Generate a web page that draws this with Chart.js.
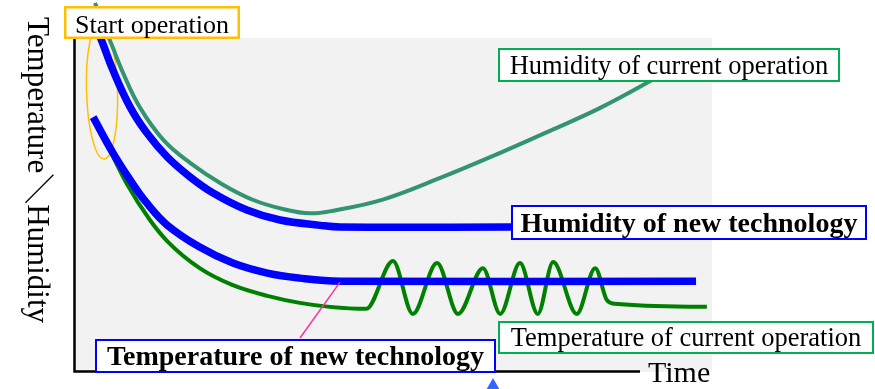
<!DOCTYPE html>
<html>
<head>
<meta charset="utf-8">
<script src="https://cdn.jsdelivr.net/npm/chart.js@4/dist/chart.umd.min.js"></script>
<style>
  html, body { margin: 0; padding: 0; background: #fff; overflow: hidden; }
  canvas { display: block; }
</style>
</head>
<body>
<canvas id="chart" width="875" height="389"></canvas>
<script>
// Schematic curves: time runs 0–100, temperature / humidity on an arbitrary 0–100 scale.

// Humidity of current operation
const humidityCurrentTime  = [3.3, 4.5, 5.6, 7.7, 10.3, 14.0, 18.2, 22.9, 28.1, 33.4, 37.0, 40.1, 48.4, 57.4, 66.8, 74.6, 82.4, 90.6, 92.6];
const humidityCurrentValue = [110.5, 103.9, 99.4, 89.5, 79.3, 69.5, 62.6, 56.6, 51.5, 48.5, 47.5, 48.1, 51.6, 58.1, 65.6, 72.2, 79.0, 87.4, 89.8];

// Humidity of new technology
const humidityNewTime  = [3.6, 4.3, 6.1, 8.8, 11.4, 14.6, 18.2, 21.8, 27.1, 32.3, 38.6, 41.7, 68.5];
const humidityNewValue = [102.4, 99.4, 90.4, 79.3, 71.6, 64.4, 58.4, 53.6, 48.5, 45.5, 43.9, 43.4, 43.4];

// Temperature of new technology
const temperatureNewTime  = [3.0, 6.1, 8.8, 11.4, 14.6, 19.7, 24.9, 30.3, 35.4, 41.7, 97.5];
const temperatureNewValue = [76.3, 65.6, 57.5, 50.6, 44.0, 37.4, 32.6, 29.6, 28.1, 27.2, 27.2];

// Temperature of current operation (oscillates once it settles)
const temperatureCurrentTime  = [3.3, 5.3, 8.3, 11.9, 14.6, 19.7, 24.9, 30.3, 35.4, 40.1, 45.8,
                                 50.0, 53.1, 56.9, 60.2, 64.1, 66.8, 69.9, 72.7, 75.1, 78.8, 81.7,
                                 83.5, 84.8, 99.2];
const temperatureCurrentValue = [75.4, 67.7, 56.3, 45.5, 39.2, 31.1, 26.0, 22.8, 20.7, 19.5, 18.9,
                                 33.2, 17.4, 32.6, 17.4, 31.1, 17.4, 32.6, 17.4, 32.9, 17.4, 31.1,
                                 21.6, 20.4, 19.5];

// Text
const axisTitleY = 'Temperature＼Humidity';
const axisTitleX = 'Time';
const labelStart = 'Start operation';
const labelHumidityCurrent = 'Humidity of current operation';
const labelHumidityNew = 'Humidity of new technology';
const labelTemperatureCurrent = 'Temperature of current operation';
const labelTemperatureNew = 'Temperature of new technology';

const SERIF = "'Liberation Serif', 'Times New Roman', 'Noto Sans CJK JP', serif";

function toPoints(xs, ys) {
  return xs.map((x, i) => ({ x: x, y: ys[i] }));
}

// Callout boxes (pixel layout)
const callouts = [
  { text: labelStart, x1: 64, y1: 6, x2: 240, y2: 39, color: '#FFC000', lw: 2.5, font: '26px ' + SERIF, base: 33 },
  { text: labelHumidityCurrent, x1: 498, y1: 48, x2: 840, y2: 82, color: '#00B050', lw: 2, font: '26.5px ' + SERIF, base: 74 },
  { text: labelHumidityNew, x1: 511, y1: 205, x2: 867, y2: 240, color: '#0000FF', lw: 2, font: 'bold 28px ' + SERIF, base: 232 },
  { text: labelTemperatureCurrent, x1: 498, y1: 321, x2: 874, y2: 354, color: '#00B050', lw: 2, font: '26.5px ' + SERIF, base: 346 },
  { text: labelTemperatureNew, x1: 95, y1: 339, x2: 496, y2: 373, color: '#0000FF', lw: 2, font: 'bold 28px ' + SERIF, base: 365 }
];

const decorations = {
  id: 'decorations',
  beforeDatasetsDraw(chart) {
    const ctx = chart.ctx;
    const a = chart.chartArea;
    ctx.save();
    // plot background
    ctx.fillStyle = '#F2F2F2';
    ctx.fillRect(a.left, a.top, a.right - a.left, a.bottom - a.top);
    // "start operation" marker ellipse
    ctx.strokeStyle = '#FFC000';
    ctx.lineWidth = 1.5;
    ctx.beginPath();
    ctx.ellipse(a.left + 28, a.top + 53, 15.5, 68, -0.03, 0, Math.PI * 2);
    ctx.stroke();
    // axes
    ctx.strokeStyle = '#000';
    ctx.lineWidth = 2.5;
    ctx.lineJoin = 'miter';
    ctx.beginPath();
    ctx.moveTo(a.left + 0.5, a.top - 8);
    ctx.lineTo(a.left + 0.5, a.bottom - 0.5);
    ctx.lineTo(640, a.bottom - 0.5);
    ctx.stroke();
    ctx.restore();
  },
  afterDraw(chart) {
    const ctx = chart.ctx;
    const xs = chart.scales.x, ys = chart.scales.y;
    ctx.save();

    // pointer from the new-technology temperature label to its curve
    const n = temperatureNewTime.length - 2;
    ctx.strokeStyle = '#FF3399';
    ctx.lineWidth = 1.5;
    ctx.beginPath();
    ctx.moveTo(300, 338);
    ctx.lineTo(xs.getPixelForValue(temperatureNewTime[n]), ys.getPixelForValue(temperatureNewValue[n]) + 1);
    ctx.stroke();

    // callout boxes
    callouts.forEach(b => {
      ctx.fillStyle = '#fff';
      ctx.fillRect(b.x1, b.y1, b.x2 - b.x1, b.y2 - b.y1);
      ctx.strokeStyle = b.color;
      ctx.lineWidth = b.lw;
      ctx.strokeRect(b.x1 + b.lw / 2, b.y1 + b.lw / 2, b.x2 - b.x1 - b.lw, b.y2 - b.y1 - b.lw);
      ctx.fillStyle = '#000';
      ctx.font = b.font;
      ctx.textAlign = 'center';
      ctx.textBaseline = 'alphabetic';
      ctx.fillText(b.text, (b.x1 + b.x2) / 2, b.base);
    });

    // small pointer at the bottom edge
    ctx.fillStyle = '#3366FF';
    ctx.beginPath();
    ctx.moveTo(493, 378);
    ctx.lineTo(485, 392);
    ctx.lineTo(501, 392);
    ctx.closePath();
    ctx.fill();

    // x axis title
    ctx.fillStyle = '#000';
    ctx.font = '30px ' + SERIF;
    ctx.textAlign = 'left';
    ctx.fillText(axisTitleX, 648, 382);

    // y axis title, reading top to bottom
    ctx.translate(28, 170);
    ctx.rotate(Math.PI / 2);
    ctx.font = '31px ' + SERIF;
    ctx.textAlign = 'center';
    ctx.fillText(axisTitleY, 0, 0);
    ctx.restore();
  }
};

const smooth = { cubicInterpolationMode: 'default', tension: 0.4 };

new Chart(document.getElementById('chart'), {
  type: 'line',
  data: {
    datasets: [
      Object.assign({ label: labelHumidityNew, data: toPoints(humidityNewTime, humidityNewValue),
        borderColor: '#0000FF', borderWidth: 7.5, clip: false }, smooth),
      Object.assign({ label: labelTemperatureNew, data: toPoints(temperatureNewTime, temperatureNewValue),
        borderColor: '#0000FF', borderWidth: 7.5, clip: false }, smooth),
      Object.assign({ label: labelHumidityCurrent, data: toPoints(humidityCurrentTime, humidityCurrentValue),
        borderColor: '#339470', borderWidth: 4, clip: false }, smooth),
      { label: labelTemperatureCurrent, data: toPoints(temperatureCurrentTime, temperatureCurrentValue),
        borderColor: '#008000', borderWidth: 4, clip: false, cubicInterpolationMode: 'monotone' }
    ]
  },
  options: {
    responsive: false,
    animation: false,
    devicePixelRatio: 1,
    layout: { padding: { left: 74, top: 38, right: 163, bottom: 17 } },
    elements: {
      point: { radius: 0, hoverRadius: 0 },
      line: { borderCapStyle: 'butt', borderJoinStyle: 'round', fill: false }
    },
    scales: {
      x: { type: 'linear', min: 0, max: 100, display: false },
      y: { type: 'linear', min: 0, max: 100, display: false }
    },
    plugins: { legend: { display: false }, tooltip: { enabled: false } }
  },
  plugins: [decorations]
});
</script>
</body>
</html>
